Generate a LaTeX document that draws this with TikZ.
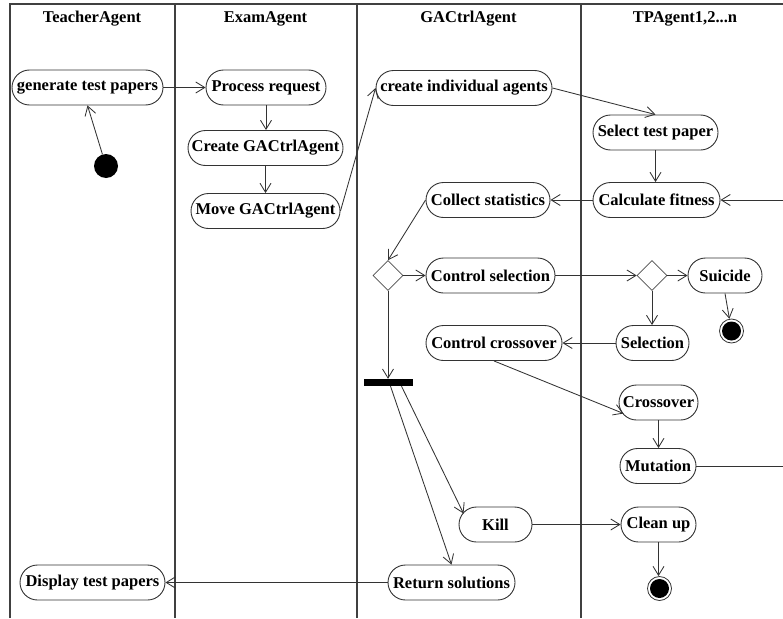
\documentclass[tikz,border=0pt]{standalone}
\usepackage{fontspec}
\setmainfont{Liberation Serif}
\usetikzlibrary{arrows.meta,shapes.geometric,calc}
\begin{document}
\begin{tikzpicture}[x=1pt,y=-1pt,
  every node/.style={font=\bfseries\fontsize{16.5}{18}\selectfont},
  act/.style={draw=black!80, line width=0.9pt, rounded corners=17.5pt, minimum height=35pt, inner sep=0pt},
  arr/.style={draw=black!80, line width=0.85pt, -{Straight Barb[length=9pt,width=11pt]}},
  ln/.style={draw=black!80, line width=0.85pt},
  lane/.style={draw=black!75, line width=1.2pt},
  dec/.style={diamond, draw=black!70, line width=0.6pt, minimum width=30pt, minimum height=30pt, inner sep=0pt, aspect=1},
  startdot/.style={circle, fill=black, minimum size=24pt, inner sep=0pt},
  enddot/.style={circle, draw=black!80, line width=0.8pt, minimum size=24pt, inner sep=0pt,
    path picture={\fill[black] (path picture bounding box.center) circle (9.5pt);}},
  hdr/.style={font=\bfseries\fontsize{16.5}{18}\selectfont}
]
\useasboundingbox (0,0) rectangle (783,618);
% swimlanes
\draw[lane] (10,618) -- (10,4) -- (783,4);
\draw[lane] (175,4) -- (175,618);
\draw[lane] (357,4) -- (357,618);
\draw[lane] (581,4) -- (581,618);
% headers
\node[hdr] (h1) at (92,19) {TeacherAgent};
\node[hdr] (h2) at (265.5,19) {ExamAgent};
\node[hdr] (h3) at (468.5,19) {GACtrlAgent};
\node[hdr] (h4) at (685,19) {TPAgent1,2...n};
% nodes
\node[act, minimum width=151pt] (gen) at (87.5,87.5) {generate test papers};
\node[startdot] (init) at (106,166) {};
\node[act, minimum width=120pt] (proc) at (266,87.5) {Process request};
\node[act, minimum width=155pt] (create) at (265.5,148) {Create GACtrlAgent};
\node[act, minimum width=149pt] (move) at (265.5,211) {Move GACtrlAgent};
\node[act, minimum width=176pt] (cia) at (464,88) {create individual agents};
\node[act, minimum width=125pt] (sel) at (655.5,132.5) {Select test paper};
\node[act, minimum width=127pt] (calc) at (656.5,200) {Calculate fitness};
\node[act, minimum width=124pt] (coll) at (488,200) {Collect statistics};
\node[dec] (d1) at (388,275.5) {};
\node[act, minimum width=129pt] (csel) at (490.5,275.5) {Control selection};
\node[dec] (d2) at (652,275.5) {};
\node[act, minimum width=74pt] (sui) at (725,275.5) {Suicide};
\node[enddot] (fin1) at (731.5,331) {};
\node[act, minimum width=73pt] (seln) at (652.5,343) {Selection};
\node[act, minimum width=136pt] (ccross) at (494,343) {Control crossover};
\node[fill=black, minimum width=49pt, minimum height=7pt, inner sep=0pt] (fork) at (388.5,382.5) {};
\node[act, minimum width=79pt] (cross) at (658.5,402.5) {Crossover};
\node[act, minimum width=76pt] (mut) at (658,466) {Mutation};
\node[act, minimum width=73pt] (kill) at (495.5,524.5) {Kill};
\node[act, minimum width=75pt] (clean) at (658.5,524.5) {Clean up};
\node[enddot] (fin2) at (659.5,588.5) {};
\node[act, minimum width=127pt] (ret) at (451.5,582.5) {Return solutions};
\node[act, minimum width=145pt] (disp) at (92.5,582.5) {Display test papers};
\coordinate (loopin) at (783,200);
\coordinate (loopout) at (783,466);
% connectors
\draw[arr] (init) -- (gen.south);
\draw[arr] (gen) -- (proc);
\draw[arr] (proc.south) -- (proc.south |- create.north);
\draw[arr] (create.south) -- (create.south |- move.north);
\draw[arr] (move.east) -- (cia.west);
\draw[arr] (cia.east) -- (sel.north);
\draw[arr] (sel.south) -- (sel.south |- calc.north);
\draw[arr] (calc.west) -- (coll.east);
\draw[arr] (loopin) -- (calc.east);
\draw[arr] (coll.west) -- (d1.north);
\draw[arr] (d1.east) -- (csel.west);
\draw[arr] (d1.south) -- (d1.south |- fork.north);
\draw[arr] (csel.east) -- (d2.west);
\draw[arr] (d2.east) -- (sui.west);
\draw[arr] (d2.south) -- (d2.south |- seln.north);
\draw[arr] (sui.south) -- (fin1);
\draw[arr] (seln.west) -- (ccross.east);
\draw[arr] (ccross.south) -- ($(cross.center)+(-35,11)$);
\draw[arr] (cross.south) -- (cross.south |- mut.north);
\draw[ln] (mut.east) -- (loopout);
\draw[arr] ($(fork.south)+(13,0)$) -- ($(kill.center)+(-32,-11)$);
\draw[arr] ($(fork.south)+(2,0)$) -- (ret.north);
\draw[arr] (kill.east) -- (clean.west);
\draw[arr] (clean.south) -- (clean.south |- fin2.north);
\draw[arr] (ret.west) -- (disp.east);
\end{tikzpicture}
\end{document}
